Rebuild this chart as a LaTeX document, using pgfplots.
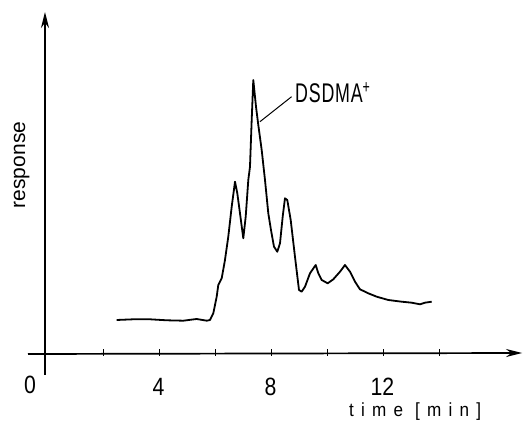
\documentclass[border=0pt]{standalone}
\usepackage{fontspec}
\setmainfont{Liberation Sans}
\newfontfamily\digfont{Liberation Sans}[FakeStretch=0.85]
\newfontfamily\timefont{Liberation Sans}[FakeStretch=0.9, LetterSpace=38]
\newfontfamily\capfont{Liberation Sans}[FakeStretch=0.66, LetterSpace=3]
\usepackage{pgfplots}
\pgfplotsset{compat=1.18}
\usetikzlibrary{arrows.meta}
\pgfplotstableread{
t r
2.45 34
3.05 34.7
3.64 34.7
4.24 33.7
4.83 33.3
5.31 35
5.67 33.3
5.786 34
5.904 40.7
6.025 57.3
6.082 69
6.204 75.7
6.321 94
6.439 117.3
6.561 147.3
6.679 172.3
6.761 160.7
6.857 140.7
6.975 115.7
7.061 137.3
7.154 174
7.214 187.3
7.275 234
7.332 274
7.429 247.3
7.511 229
7.632 204
7.75 174
7.868 140.7
7.964 124
8.071 107.3
8.189 102.3
8.286 110.7
8.382 137.3
8.464 155.7
8.546 154
8.668 134
8.821 97.3
8.964 64
9.061 62.3
9.179 67.3
9.357 80.7
9.561 89
9.654 80.7
9.775 74
9.989 70.7
10.189 74.7
10.429 82.3
10.607 89
10.786 82.3
10.964 72.3
11.143 64.7
11.439 60.7
11.739 57.3
12.154 54
12.632 52.3
12.989 51.3
13.286 49.7
13.464 51.3
13.704 52.3
}\chrom
\begin{document}
\begin{tikzpicture}
\path[use as bounding box] (0,0) rectangle (529pt,422pt);
\begin{axis}[
  at={(0,0)}, anchor=south west,
  scale only axis, width=529pt, height=422pt,
  xmin=-1.714, xmax=17.179, ymin=-68, ymax=354,
  axis lines=middle, axis line style={draw=none},
  clip=false,
  xtick={2,4,...,14}, xticklabels={,4,,8,,12,},
  ytick=\empty,
  major tick length=7pt,
  tick style={black, line width=1pt, yshift=1.5pt},
  /pgf/number format/assume math mode=true,
  xticklabel style={font=\digfont\fontsize{25}{25}\selectfont, anchor=base, yshift=-38pt, xshift=-1.5pt},
]
\addplot[black, line width=1.8pt, line join=round] table[x=t, y=r] {\chrom};
\draw[line width=1.7pt, -{Stealth[length=16pt,width=8pt]}] (axis cs:-0.714,0) -- (axis cs:16.93,1);
\draw[line width=2pt, -{Stealth[length=16pt,width=8pt]}] (axis cs:-0.107,-21) -- (axis cs:-0.107,342);
\node[anchor=base, font=\digfont\fontsize{25}{25}\selectfont] at (axis cs:-0.643,-39.5) {0};
\node[anchor=base west, inner sep=0pt, font=\timefont\fontsize{19}{19}\selectfont] at (axis cs:10.75,-63) {time [min]};
\node[rotate=90, anchor=base, inner sep=0pt, font=\fontsize{21}{21}\selectfont] at (axis cs:-0.82,189) {response};
\node[anchor=base west, inner sep=0pt, font=\capfont\fontsize{27}{27}\selectfont] at (axis cs:8.82,251) {DSDMA\textsuperscript{+}};
\draw[line width=1pt] (axis cs:8.70,257.3) -- (axis cs:7.57,232.3);
\end{axis}
\end{tikzpicture}
\end{document}
